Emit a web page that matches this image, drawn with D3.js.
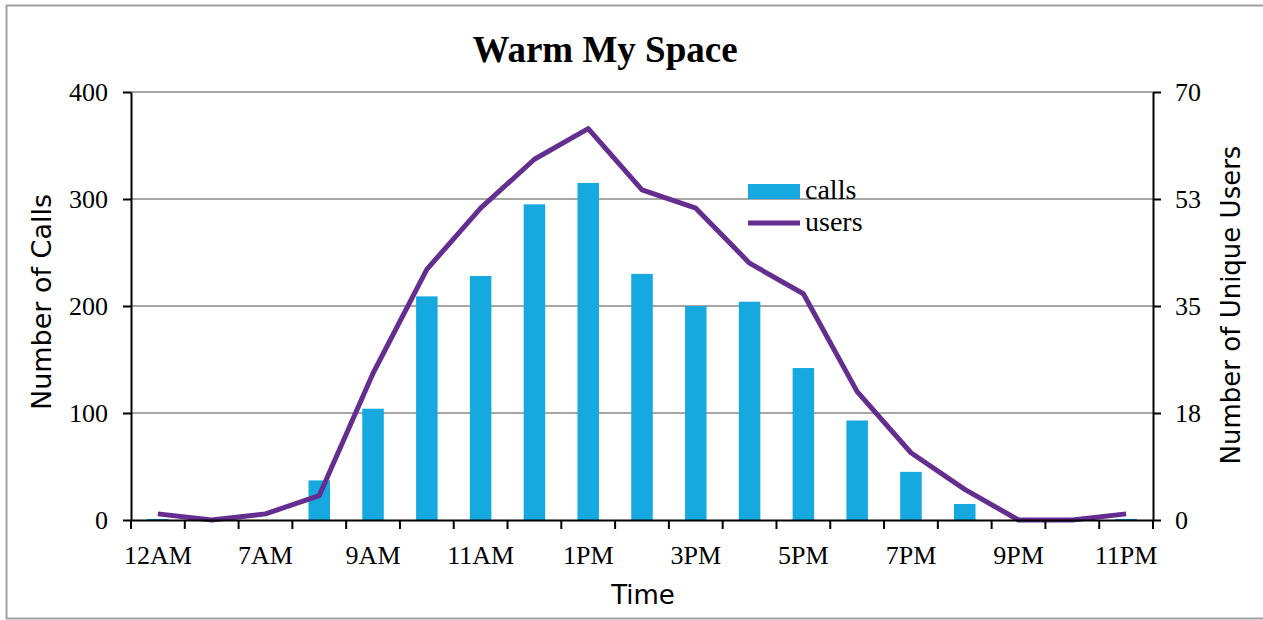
<!DOCTYPE html>
<html>
<head>
<meta charset="utf-8">
<script src="https://cdn.jsdelivr.net/npm/d3@7"></script>
<style>
  html, body { margin: 0; padding: 0; background: #fff; }
  svg { display: block; }
</style>
</head>
<body>
<svg id="chart" width="1263" height="620"></svg>
<script>
// Hourly activity for "Warm My Space"
const hours = ["12AM","6AM","7AM","8AM","9AM","10AM","11AM","12PM","1PM","2PM","3PM",
               "4PM","5PM","6PM","7PM","8PM","9PM","10PM","11PM"];
const calls = [1, 0, 0, 37, 104, 209, 228, 295, 315, 230, 200, 204, 142, 93, 45, 15, 0, 0, 1];
const users = [1, 0, 1, 4, 24, 41, 51, 59, 64, 54, 51, 42, 37, 21, 11, 5, 0, 0, 1];

const callTicks = [0, 100, 200, 300, 400];
const userTicks = [0, 17.5, 35, 52.5, 70];
const userTickLabels = ["0", "18", "35", "53", "70"];

const title = "Warm My Space";
const xTitle = "Time";
const yTitle = "Number of Calls";
const y2Title = "Number of Unique Users";
const seriesNames = ["calls", "users"];

const barColor = "#15a9e0";
const lineColor = "#662d91";
const gridColor = "#a6a6a6";
const serif = "'Liberation Serif', 'DejaVu Serif', serif";
const sans = "'DejaVu Sans', Verdana, sans-serif";

const plot = { left: 131, right: 1153, top: 92, bottom: 520 };

const svg = d3.select("#chart");

// frame around the chart area
svg.append("rect")
  .attr("x", 6.5).attr("y", 5.5)
  .attr("width", 1263).attr("height", 613)
  .attr("fill", "none").attr("stroke", "#a0a0a0").attr("stroke-width", 2);

const x = d3.scaleBand().domain(hours).range([plot.left, plot.right]).padding(0);
const yCalls = d3.scaleLinear().domain([0, 400]).range([plot.bottom, plot.top]);
const yUsers = d3.scaleLinear().domain([0, 70]).range([plot.bottom, plot.top]);

// horizontal gridlines
svg.append("g")
  .selectAll("line").data(callTicks.slice(1)).join("line")
  .attr("x1", plot.left).attr("x2", plot.right)
  .attr("y1", d => yCalls(d)).attr("y2", d => yCalls(d))
  .attr("stroke", gridColor).attr("stroke-width", 2);

// bars: 40% of each hour slot, centred
const barFrac = 0.4;
svg.append("g")
  .selectAll("rect").data(hours).join("rect")
  .attr("x", h => x(h) + x.bandwidth() * (1 - barFrac) / 2)
  .attr("width", x.bandwidth() * barFrac)
  .attr("y", (h, i) => yCalls(calls[i]))
  .attr("height", (h, i) => yCalls(0) - yCalls(calls[i]))
  .attr("fill", barColor);

// users line
const line = d3.line()
  .x((d, i) => x(hours[i]) + x.bandwidth() / 2)
  .y(d => yUsers(d));
svg.append("path")
  .datum(users)
  .attr("d", line)
  .attr("fill", "none")
  .attr("stroke", lineColor)
  .attr("stroke-width", 5)
  .attr("stroke-linejoin", "round");

// left axis
const leftAxis = svg.append("g")
  .attr("transform", `translate(${plot.left},0)`)
  .call(d3.axisLeft(yCalls).tickValues(callTicks).tickSize(8).tickPadding(15).tickSizeOuter(0));
// right axis
const rightAxis = svg.append("g")
  .attr("transform", `translate(${plot.right},0)`)
  .call(d3.axisRight(yUsers).tickValues(userTicks).tickSize(8).tickPadding(14).tickSizeOuter(0)
    .tickFormat((d, i) => userTickLabels[i]));
// bottom axis: labels on every other hour, ticks on slot boundaries
const bottomAxis = svg.append("g")
  .attr("transform", `translate(0,${plot.bottom})`)
  .call(d3.axisBottom(x).tickSize(0).tickPadding(26).tickSizeOuter(0)
    .tickFormat((d, i) => i % 2 === 0 ? d : ""));
bottomAxis.selectAll(".slot-tick")
  .data(hours.concat(["__end"])).join("line")
  .attr("class", "slot-tick")
  .attr("x1", (h, i) => i < hours.length ? x(h) : plot.right)
  .attr("x2", (h, i) => i < hours.length ? x(h) : plot.right)
  .attr("y1", 0).attr("y2", 9)
  .attr("stroke", "#000").attr("stroke-width", 2);

[leftAxis, rightAxis, bottomAxis].forEach(g => {
  g.select(".domain").attr("stroke", "#000").attr("stroke-width", 2);
  g.selectAll(".tick line").attr("stroke", "#000").attr("stroke-width", 2);
  g.selectAll(".tick text")
    .attr("font-family", serif).attr("font-size", 26).attr("fill", "#000");
});

// titles
svg.append("text")
  .attr("x", 605).attr("y", 62)
  .attr("text-anchor", "middle")
  .attr("font-family", serif).attr("font-weight", "bold").attr("font-size", 37)
  .text(title);

svg.append("text")
  .attr("x", 643).attr("y", 604)
  .attr("text-anchor", "middle")
  .attr("font-family", sans).attr("font-size", 26)
  .text(xTitle);

svg.append("text")
  .attr("transform", "translate(51,302) rotate(-90)")
  .attr("text-anchor", "middle")
  .attr("font-family", sans).attr("font-size", 27)
  .text(yTitle);

svg.append("text")
  .attr("transform", "translate(1240,305) rotate(-90)")
  .attr("text-anchor", "middle")
  .attr("font-family", sans).attr("font-size", 26)
  .text(y2Title);

// legend
const legend = svg.append("g").attr("transform", "translate(748,184)");
legend.append("rect")
  .attr("x", 0).attr("y", 0).attr("width", 52).attr("height", 15)
  .attr("fill", barColor);
legend.append("line")
  .attr("x1", 0).attr("x2", 52).attr("y1", 39).attr("y2", 39)
  .attr("stroke", lineColor).attr("stroke-width", 5);
legend.selectAll("text.lbl").data(seriesNames).join("text")
  .attr("class", "lbl")
  .attr("x", 57).attr("y", (d, i) => 15 + i * 32)
  .attr("font-family", serif).attr("font-size", 28)
  .text(d => d);
</script>
</body>
</html>
